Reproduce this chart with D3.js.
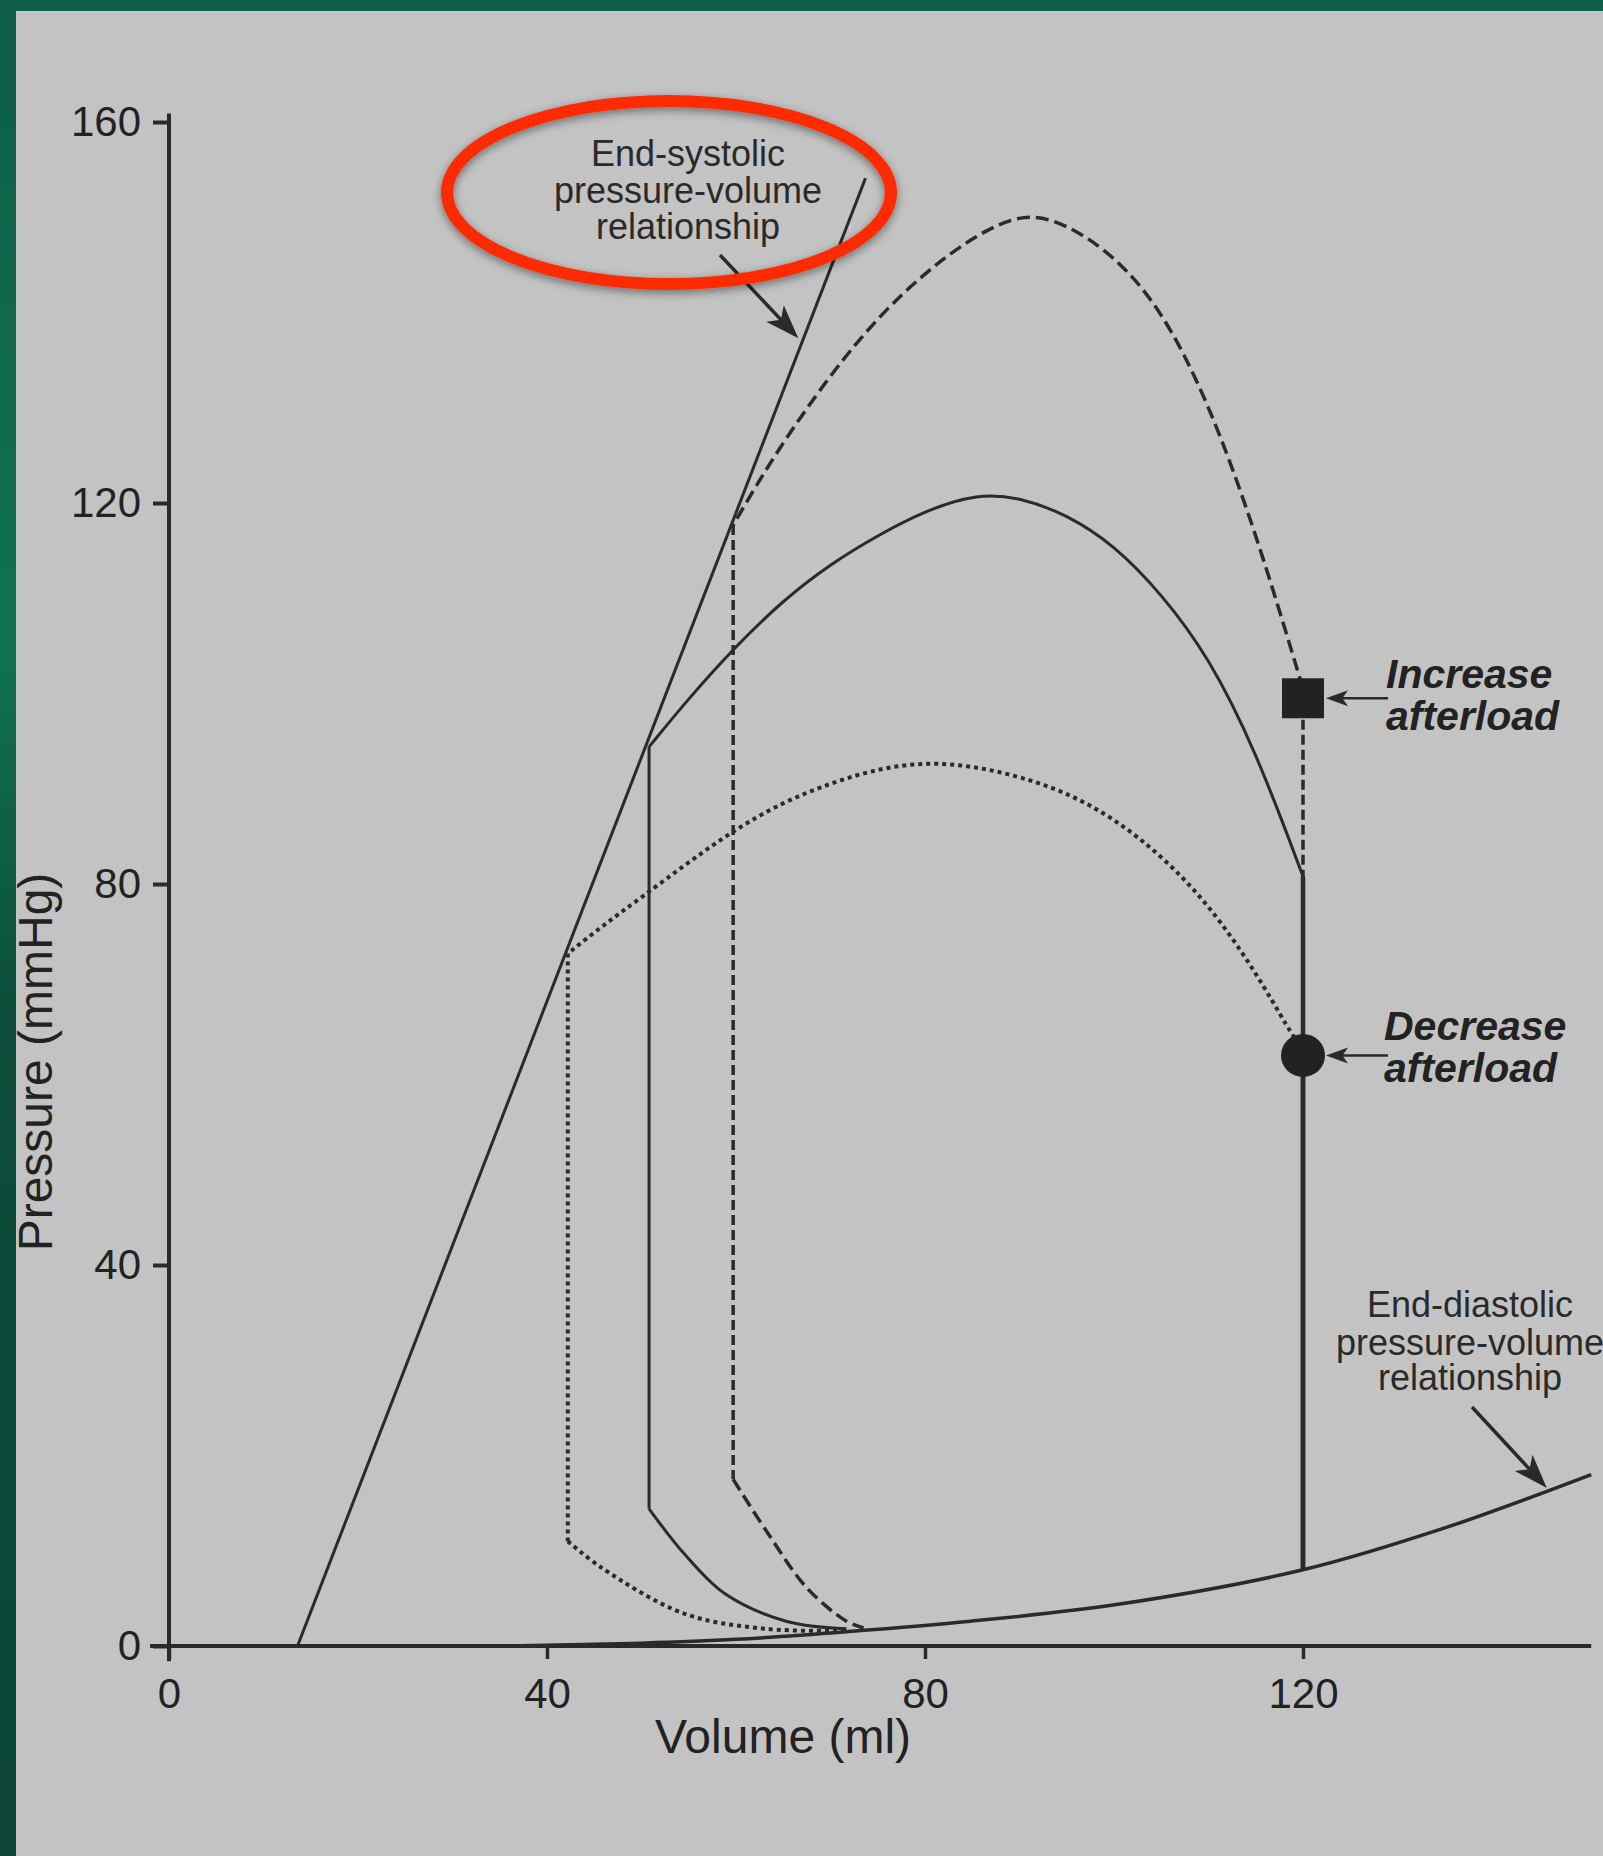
<!DOCTYPE html>
<html><head><meta charset="utf-8">
<script src="https://cdn.jsdelivr.net/npm/d3@7"></script>
<style>html,body{margin:0;padding:0;background:#0c5a44;} svg{display:block}</style>
</head><body>
<svg id="chart" width="1603" height="1856"></svg>
<script>
// ---------- data ----------
const xTicks = [0, 40, 80, 120];
const yTicks = [0, 40, 80, 120, 160];
const xTitle = "Volume (ml)";
const yTitle = "Pressure (mmHg)";

// End-systolic pressure-volume relationship (straight line)
const espvr = [[13.6, 0], [73.7, 154.1]];
// End-diastolic pressure-volume relationship
const edpvr = [[35.5, 0], [50, 0.3], [60, 0.7], [71.7, 1.5], [84.8, 2.6], [100.6, 4.4], [120, 8], [135, 12.4], [150.5, 18]];

// Increase afterload loop (dashed)
const incContraction = [[120, 8], [120, 100.5]];
const incEjection = [[120, 100.5], [115, 117], [110, 130.6], [105, 140.4], [100, 146], [95, 149.3], [90.4, 150.6], [85, 147.9], [80, 144.2], [75, 139.5], [70, 133.5], [65, 126.4], [62, 121.6], [59.7, 117.7]];
const incRelaxation = [[59.7, 117.7], [59.7, 17.5]];
const incFilling = [[59.7, 17.5], [63.2, 12.1], [67.5, 6.1], [71.7, 2.6], [73.5, 1.9]];

// Normal loop (solid)
const normContraction = [[120, 8], [120, 80.8]];
const normEjection = [[120, 80.8], [115, 94], [110, 103.9], [105, 110.5], [100, 115.6], [95, 118.8], [90, 120.6], [85.6, 121], [80, 119.2], [75, 116.6], [70, 113.6], [65, 109.8], [60, 105], [55, 99.5], [50.8, 94.4]];
const normRelaxation = [[50.8, 94.4], [50.8, 14.4]];
const normFilling = [[50.8, 14.4], [54.5, 9.7], [58.8, 5.5], [65.3, 2.6], [71.7, 1.8]];

// Decrease afterload loop (dotted)
const decContraction = [[120, 8], [120, 62]];
const decEjection = [[119.6, 63.2], [118.6, 64.5], [115, 70.8], [110, 77.9], [105, 83], [100, 86.9], [95, 89.6], [90, 91.3], [85, 92.4], [80, 92.8], [75, 92.1], [70, 90.6], [65, 88.6], [60, 85.8], [55, 82.3], [50, 78.6], [46, 75.7], [42.2, 72.7]];
const decRelaxation = [[42.2, 72.7], [42.2, 11]];
const decFilling = [[42.2, 11], [45.8, 8.2], [54.5, 3.4], [63.2, 1.8], [71.7, 1.6]];

// markers
const increasePoint = [120, 99.5];
const decreasePoint = [120, 62];

// annotation texts
const esLabel = ["End-systolic", "pressure-volume", "relationship"];
const edLabel = ["End-diastolic", "pressure-volume", "relationship"];
const incLabel = ["Increase", "afterload"];
const decLabel = ["Decrease", "afterload"];

// ---------- drawing ----------
const svg = d3.select("#chart");
const ink = "#2a2a2a";

const defs = svg.append("defs");
const g1 = defs.append("linearGradient").attr("id", "greenbg").attr("x1", 0).attr("y1", 0).attr("x2", 0).attr("y2", 1);
g1.append("stop").attr("offset", "0%").attr("stop-color", "#0e5e47");
g1.append("stop").attr("offset", "35%").attr("stop-color", "#117252");
g1.append("stop").attr("offset", "55%").attr("stop-color", "#0b4d3a");
g1.append("stop").attr("offset", "100%").attr("stop-color", "#0a4535");
const f = defs.append("filter").attr("id", "shadow").attr("x", "-20%").attr("y", "-30%").attr("width", "140%").attr("height", "160%");
f.append("feDropShadow").attr("dx", 0).attr("dy", 3).attr("stdDeviation", 5).attr("flood-color", "#000").attr("flood-opacity", 0.45);

svg.append("rect").attr("width", 1603).attr("height", 1856).attr("fill", "url(#greenbg)");
svg.append("rect").attr("x", 16).attr("y", 11).attr("width", 1587).attr("height", 1845).attr("fill", "#c3c3c3");

const x = d3.scaleLinear().domain([0, 120]).range([169, 1303]);
const y = d3.scaleLinear().domain([0, 160]).range([1646, 122]);

const font = "'Liberation Sans', Arial, sans-serif";

// axes
const yAxis = d3.axisLeft(y).tickValues(yTicks).tickSize(16).tickPadding(12).tickSizeOuter(0);
const gy = svg.append("g").attr("transform", `translate(${x(0)},0)`).call(yAxis);
gy.select(".domain").remove();
gy.selectAll(".tick line").attr("stroke", ink).attr("stroke-width", 4);
gy.selectAll(".tick text").attr("fill", "#222").style("font-family", font).style("font-size", "42px");

const xAxis = d3.axisBottom(x).tickValues(xTicks).tickSize(13).tickPadding(19).tickSizeOuter(0);
const gx = svg.append("g").attr("transform", `translate(0,${y(0)})`).call(xAxis);
gx.select(".domain").remove();
gx.selectAll(".tick line").attr("stroke", ink).attr("stroke-width", 3.5);
gx.selectAll(".tick text").attr("fill", "#222").style("font-family", font).style("font-size", "42px");

// axis lines
svg.append("line").attr("x1", x(0)).attr("x2", x(0)).attr("y1", y(160.9)).attr("y2", y(-1.6))
  .attr("stroke", ink).attr("stroke-width", 4);
svg.append("line").attr("x1", x(-2)).attr("x2", x(150.5)).attr("y1", y(0)).attr("y2", y(0))
  .attr("stroke", ink).attr("stroke-width", 4);

// axis titles
svg.append("text").attr("x", 783).attr("y", 1753).attr("text-anchor", "middle")
  .attr("fill", "#222").style("font-family", font).style("font-size", "48px")
  .text(xTitle);
svg.append("text").attr("transform", "translate(52,1062) rotate(-90)").attr("text-anchor", "middle")
  .attr("fill", "#222").style("font-family", font).style("font-size", "48px")
  .text(yTitle);

const straight = d3.line().x(d => x(d[0])).y(d => y(d[1]));
const smooth = d3.line().x(d => x(d[0])).y(d => y(d[1])).curve(d3.curveCatmullRom.alpha(0.5));
const arc = d3.line().x(d => x(d[0])).y(d => y(d[1])).curve(d3.curveBasis);

function draw(data, gen, style) {
  const p = svg.append("path").attr("d", gen(data)).attr("fill", "none")
    .attr("stroke", ink).attr("stroke-width", style.w || 3).attr("stroke-linejoin", "round");
  if (style.dash) p.attr("stroke-dasharray", style.dash);
  return p;
}

// EDPVR & ESPVR
draw(espvr, straight, { w: 3 });
draw(edpvr, smooth, { w: 3.5 });

// increase afterload (dashed)
const dashed = { w: 3.5, dash: "13,6" };
draw(incContraction, straight, { w: 3.5, dash: "10,5" });
draw(incEjection, arc, dashed);
draw(incRelaxation, straight, { w: 3.5, dash: "10,5" });
draw(incFilling, smooth, dashed);

// decrease afterload (dotted)
const dotted = { w: 4, dash: "4,4" };
draw(decEjection, arc, dotted);
draw(decRelaxation, straight, dotted);
draw(decFilling, smooth, dotted);

// normal (solid)
draw(normEjection, arc, { w: 3 });
draw(normRelaxation, straight, { w: 3 });
draw(normFilling, smooth, { w: 3 });
draw(normContraction, straight, { w: 4.5 });
draw(decContraction, straight, { w: 4.5 });

// markers
svg.append("rect").attr("x", x(increasePoint[0]) - 21).attr("y", y(increasePoint[1]) - 20)
  .attr("width", 42).attr("height", 40).attr("fill", "#222");
svg.append("ellipse").attr("cx", x(decreasePoint[0])).attr("cy", y(decreasePoint[1]))
  .attr("rx", 22).attr("ry", 21.5).attr("fill", "#222");

// arrow helper
function arrow(x1, y1, x2, y2, len, half, w) {
  const a = Math.atan2(y2 - y1, x2 - x1);
  const bx = x2 - len * Math.cos(a), by = y2 - len * Math.sin(a);
  svg.append("line").attr("x1", x1).attr("y1", y1).attr("x2", bx + 0.3 * len * Math.cos(a)).attr("y2", by + 0.3 * len * Math.sin(a))
    .attr("stroke", ink).attr("stroke-width", w);
  const px = -Math.sin(a), py = Math.cos(a);
  const nx = x2 - 0.75 * len * Math.cos(a), ny = y2 - 0.75 * len * Math.sin(a);
  svg.append("path").attr("d", `M${x2},${y2} L${bx + half * px},${by + half * py} L${nx},${ny} L${bx - half * px},${by - half * py} Z`)
    .attr("fill", ink);
}

// ESPVR annotation
const esBase = [166, 203, 239];
esLabel.forEach((t, i) => svg.append("text").attr("x", 688).attr("y", esBase[i]).attr("text-anchor", "middle")
  .attr("fill", "#2a2a2a").style("font-family", font).style("font-size", "36px").text(t));
arrow(720, 255, x(66.6), y(137.3), 34, 12, 3.5);

svg.append("ellipse").attr("cx", 669).attr("cy", 192.5).attr("rx", 222).attr("ry", 91.5)
  .attr("fill", "none").attr("stroke", "#fe2a00").attr("stroke-width", 12).attr("filter", "url(#shadow)");

// EDPVR annotation
const edBase = [1317, 1355, 1390];
edLabel.forEach((t, i) => svg.append("text").attr("x", 1470).attr("y", edBase[i]).attr("text-anchor", "middle")
  .attr("fill", "#2a2a2a").style("font-family", font).style("font-size", "36px").text(t));
arrow(1472, 1407, x(145.8), y(16.6), 34, 12, 3.5);

// Increase / decrease afterload labels
const incBase = [688, 730];
incLabel.forEach((t, i) => svg.append("text").attr("x", 1386).attr("y", incBase[i])
  .attr("fill", "#222").style("font-family", font).style("font-size", "41px")
  .style("font-weight", "bold").style("font-style", "italic").text(t));
arrow(1388, y(increasePoint[1]), x(increasePoint[0]) + 23, y(increasePoint[1]), 22, 8, 2.5);

const decBase = [1040, 1082];
decLabel.forEach((t, i) => svg.append("text").attr("x", 1384).attr("y", decBase[i])
  .attr("fill", "#222").style("font-family", font).style("font-size", "41px")
  .style("font-weight", "bold").style("font-style", "italic").text(t));
arrow(1388, y(decreasePoint[1]), x(decreasePoint[0]) + 23, y(decreasePoint[1]), 22, 8, 2.5);
</script>
</body></html>
